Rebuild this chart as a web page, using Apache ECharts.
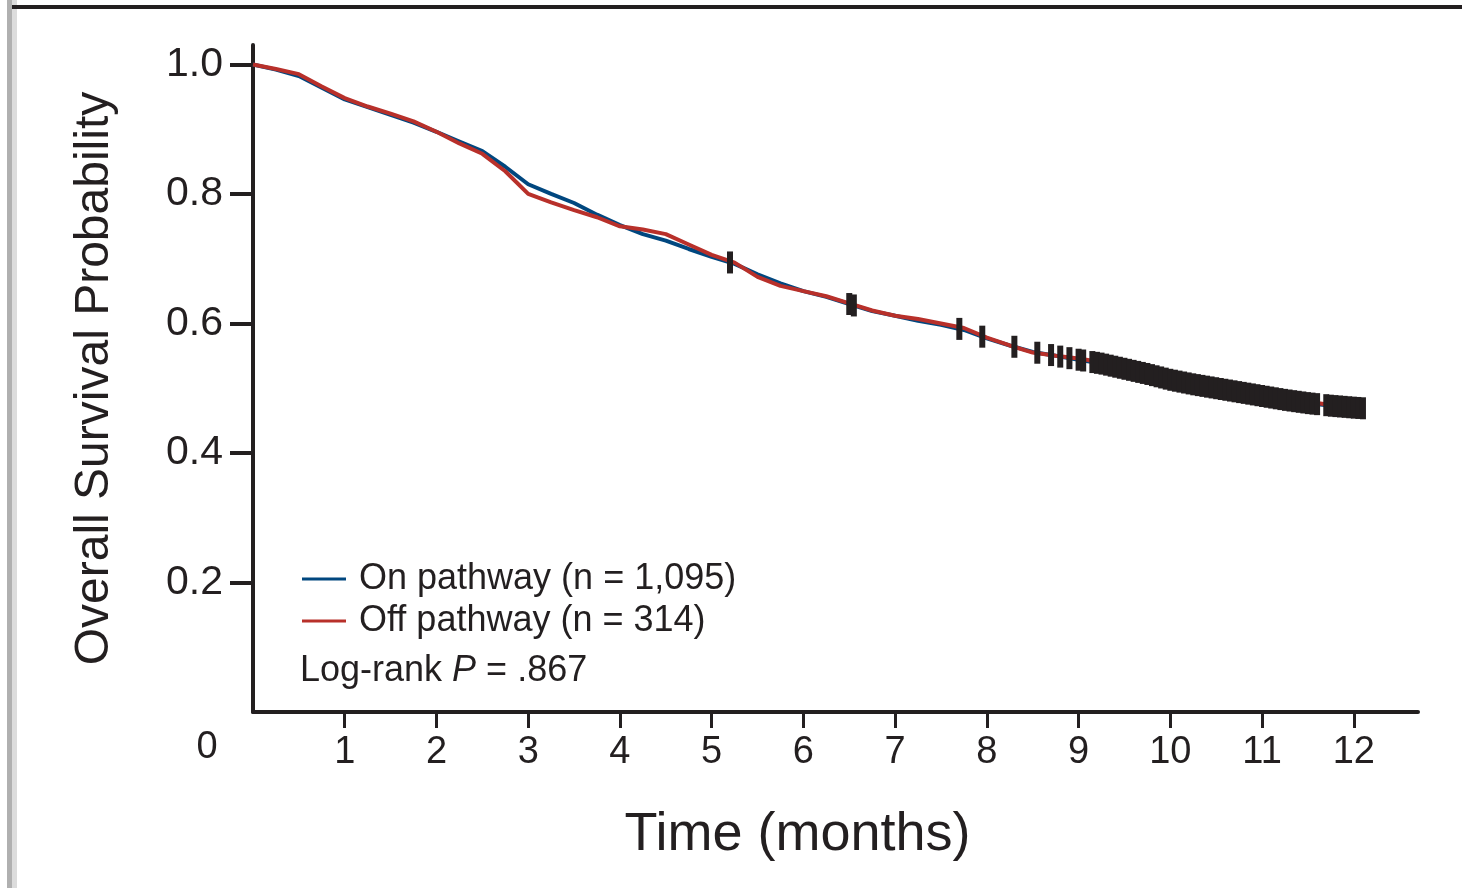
<!DOCTYPE html>
<html>
<head>
<meta charset="utf-8">
<script src="https://cdn.jsdelivr.net/npm/echarts@6/dist/echarts.min.js"></script>
<style>
  html, body { margin: 0; padding: 0; background: #fff; }
  #survivalChart { width: 1462px; height: 888px; }
</style>
</head>
<body>
<div id="survivalChart"></div>
<script>
// months
const times = [0, 0.25, 0.5, 0.75, 1, 1.25, 1.5, 1.75, 2, 2.25, 2.5, 2.75, 3, 3.25, 3.5, 3.75,
  4, 4.25, 4.5, 4.75, 5, 5.25, 5.5, 5.75, 6, 6.25, 6.5, 6.75, 7, 7.25, 7.5, 7.75,
  8, 8.25, 8.5, 8.75, 9, 9.25, 9.5, 9.75, 10, 10.25, 10.5, 10.75, 11, 11.25, 11.5, 11.75, 12, 12.1]
const onPathway = [1.0, 0.992, 0.982, 0.964, 0.946, 0.934, 0.922, 0.910, 0.896, 0.881, 0.866, 0.842, 0.815, 0.800, 0.786, 0.768,
  0.752, 0.738, 0.728, 0.715, 0.703, 0.692, 0.676, 0.662, 0.650, 0.641, 0.630, 0.619, 0.612, 0.604, 0.598, 0.590,
  0.577, 0.566, 0.556, 0.550, 0.544, 0.538, 0.530, 0.522, 0.513, 0.506, 0.500, 0.494, 0.488, 0.482, 0.477, 0.473, 0.470, 0.469]
const offPathway = [1.0, 0.993, 0.985, 0.966, 0.948, 0.935, 0.924, 0.912, 0.896, 0.878, 0.862, 0.835, 0.800, 0.787, 0.775, 0.764,
  0.750, 0.745, 0.738, 0.722, 0.706, 0.694, 0.672, 0.658, 0.650, 0.642, 0.631, 0.620, 0.612, 0.607, 0.600, 0.593,
  0.578, 0.566, 0.555, 0.550, 0.546, 0.540, 0.532, 0.524, 0.515, 0.508, 0.502, 0.496, 0.490, 0.484, 0.479, 0.474, 0.471, 0.470]
// censored observations (months)
const censorTimes = [5.2, 6.5, 6.55, 7.7, 7.95, 8.3, 8.55, 8.7, 8.8, 8.9, 9.0, 9.05, 9.15, 9.2, 9.25, 9.3,
  9.35, 9.4, 9.45, 9.5, 9.55, 9.6, 9.65, 9.7, 9.75, 9.8, 9.85, 9.9, 9.95, 10.0, 10.05, 10.1, 10.15,
  10.2, 10.25, 10.3, 10.35, 10.4, 10.45, 10.5, 10.55, 10.6, 10.65, 10.7, 10.75, 10.8, 10.85, 10.9,
  10.95, 11.0, 11.05, 11.1, 11.15, 11.2, 11.25, 11.3, 11.35, 11.4, 11.45, 11.5, 11.55, 11.6, 11.7,
  11.75, 11.8, 11.85, 11.9, 11.95, 12.0, 12.05, 12.1]
const xTicks = [1, 2, 3, 4, 5, 6, 7, 8, 9, 10, 11, 12]
const yTicks = [0.2, 0.4, 0.6, 0.8, 1.0]

const ink = '#231f20'
const font = 'Liberation Sans, Arial, sans-serif'

function survivalAt (t, curve) {
  for (let i = 1; i < times.length; i++) {
    if (t <= times[i]) {
      const f = (t - times[i - 1]) / (times[i] - times[i - 1])
      return curve[i - 1] + f * (curve[i] - curve[i - 1])
    }
  }
  return curve[curve.length - 1]
}

const chart = echarts.init(document.getElementById('survivalChart'))
const option = {
  backgroundColor: '#fff',
  animation: false,
  title: {
    text: '{a|Log-rank }{i|P}{a| = .867}',
    left: 295,
    top: 648,
    textStyle: {
      fontWeight: 'normal',
      rich: {
        a: { fontFamily: font, fontSize: 36, fontWeight: 'normal', color: ink },
        i: { fontFamily: font, fontSize: 36, fontWeight: 'normal', color: ink, fontStyle: 'italic' }
      }
    }
  },
  legend: {
    orient: 'vertical',
    left: 297,
    top: 556,
    itemWidth: 44,
    itemHeight: 3,
    itemGap: 6,
    icon: 'rect',
    textStyle: { fontFamily: font, fontSize: 36, color: ink, padding: [0, 0, 0, 8] },
    data: ['On pathway (n = 1,095)', 'Off pathway (n = 314)']
  },
  grid: { left: 253, top: 45, right: 44, bottom: 176 },
  xAxis: {
    type: 'value',
    min: 0,
    max: 12.7,
    name: 'Time (months)',
    nameLocation: 'middle',
    nameGap: 96,
    nameTextStyle: { fontFamily: font, fontSize: 54, color: ink, padding: [0, 76, 0, 0] },
    axisLine: { lineStyle: { color: ink, width: 4 } },
    axisTick: { customValues: xTicks, length: 16, lineStyle: { color: ink, width: 3 } },
    axisLabel: { customValues: xTicks, fontFamily: font, fontSize: 38, color: ink, margin: 22 },
    splitLine: { show: false }
  },
  yAxis: {
    type: 'value',
    min: 0,
    max: 1.03,
    name: 'Overall Survival Probability',
    nameLocation: 'middle',
    nameGap: 134,
    nameTextStyle: { fontFamily: font, fontSize: 48, color: ink },
    axisLine: { lineStyle: { color: ink, width: 4 } },
    axisTick: { customValues: yTicks, length: 23, lineStyle: { color: ink, width: 4 } },
    axisLabel: {
      customValues: yTicks,
      fontFamily: font,
      fontSize: 41,
      color: ink,
      margin: 30,
      formatter: (v) => v.toFixed(1)
    },
    splitLine: { show: false }
  },
  graphic: [
    { type: 'rect', shape: { x: 7, y: 0, width: 5, height: 888 }, style: { fill: '#b0b0b0' } },
    { type: 'rect', shape: { x: 12, y: 0, width: 5, height: 888 }, style: { fill: '#dcdcdc' } },
    { type: 'rect', shape: { x: 12, y: 5, width: 1450, height: 4 }, style: { fill: ink } },
    {
      type: 'text',
      x: 207,
      y: 748,
      style: { text: '0', fontFamily: font, fontSize: 38, fill: ink, align: 'center', verticalAlign: 'middle' }
    }
  ],
  series: [
    {
      name: 'On pathway (n = 1,095)',
      type: 'line',
      data: times.map((t, i) => [t, onPathway[i]]),
      showSymbol: false,
      color: '#00477f',
      lineStyle: { width: 4 }
    },
    {
      name: 'Off pathway (n = 314)',
      type: 'line',
      data: times.map((t, i) => [t, offPathway[i]]),
      showSymbol: false,
      color: '#b8302a',
      lineStyle: { width: 4 }
    },
    {
      name: 'Censored',
      type: 'scatter',
      data: censorTimes.map(t => [t, survivalAt(t, onPathway)]),
      symbol: 'rect',
      symbolSize: [6, 22],
      itemStyle: { color: ink, opacity: 1 },
      z: 3
    }
  ]
}
chart.setOption(option)
</script>
</body>
</html>
